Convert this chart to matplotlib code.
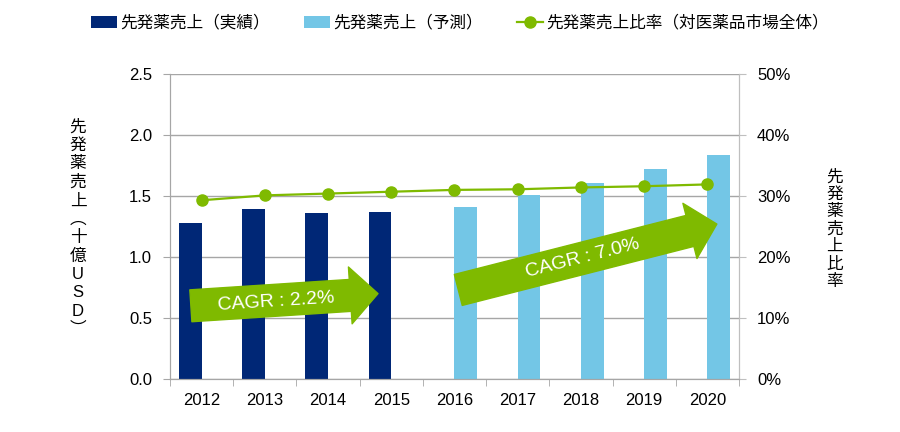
import matplotlib
matplotlib.use("Agg")
import matplotlib.pyplot as plt
from matplotlib.patches import FancyArrowPatch
from matplotlib.ticker import FuncFormatter
import numpy as np

plt.rcParams['font.family'] = ['Liberation Sans', 'Noto Sans CJK JP', 'DejaVu Sans']

# ---- data ----
years = ["2012", "2013", "2014", "2015", "2016", "2017", "2018", "2019", "2020"]
sales_actual = [1.28, 1.39, 1.36, 1.37, None, None, None, None, None]   # 十億USD
sales_forecast = [None, None, None, None, 1.41, 1.51, 1.61, 1.72, 1.84]
share = [0.293, 0.301, 0.304, 0.307, 0.310, 0.311, 0.314, 0.316, 0.319]

lbl_actual = "先発薬売上（実績）"
lbl_forecast = "先発薬売上（予測）"
lbl_share = "先発薬売上比率（対医薬品市場全体）"
ylabel_left = "先発薬売上︵十億USD︶"
ylabel_right = "先発薬売上比率"
cagr_texts = ["CAGR : 2.2%", "CAGR : 7.0%"]

NAVY = "#002776"
LIGHT = "#73C6E6"
GREEN = "#7FBA00"
GRID = "#A6A6A6"

fig = plt.figure(figsize=(9, 4.32), dpi=100)
ax = fig.add_axes([0.1889, 0.1227, 0.6322, 0.706])
ax2 = ax.twinx()

x = np.arange(len(years))
w = 0.36
xa = [xi - w / 2 for xi, v in zip(x, sales_actual) if v is not None]
ya = [v for v in sales_actual if v is not None]
xf = [xi + w / 2 for xi, v in zip(x, sales_forecast) if v is not None]
yf = [v for v in sales_forecast if v is not None]

ax.bar(xa, ya, width=w, color=NAVY, label=lbl_actual, zorder=2)
ax.bar(xf, yf, width=w, color=LIGHT, label=lbl_forecast, zorder=2)
ax2.plot(x, share, color=GREEN, lw=1.6, marker='o', markersize=8, label=lbl_share)

ax.set_xlim(-0.5, len(years) - 0.5)
ax.set_ylim(0, 2.5)
ax2.set_ylim(0, 0.5)
ax.set_yticks(np.arange(0, 2.51, 0.5))
ax2.set_yticks(np.arange(0, 0.51, 0.1))
ax.yaxis.set_major_formatter(FuncFormatter(lambda v, p: f"{v:.1f}"))
ax2.yaxis.set_major_formatter(FuncFormatter(lambda v, p: f"{v * 100:.0f}%"))

# year labels at centres, tick marks at boundaries
ax.set_xticks(x)
ax.set_xticklabels(years)
ax.set_xticks(np.arange(-0.5, len(years), 1.0), minor=True)
ax.tick_params(axis='x', which='major', length=0, pad=10, labelsize=12)
ax.tick_params(axis='x', which='minor', length=5, color=GRID)
ax.tick_params(axis='y', length=5, color=GRID, labelsize=12, pad=8)
ax2.tick_params(axis='y', length=5, color="#BFBFBF", labelsize=12, pad=8)

ax.yaxis.grid(True, color=GRID, lw=1, zorder=0)
ax.set_axisbelow(True)
for a in (ax, ax2):
    a.spines['top'].set_visible(False)
    a.spines['left'].set_color(GRID)
    a.spines['bottom'].set_color(GRID)
    a.spines['right'].set_color("#BFBFBF")

# CAGR arrows (tail / tip in bar-axis data units)
arrows = [((-0.17, 0.60), (2.79, 0.70), (1.18, 0.63), 3.7),
          ((4.06, 0.73), (8.15, 1.27), (6.02, 0.99), 14.3)]
for (tail, tip, tpos, ang), txt in zip(arrows, cagr_texts):
    arr = FancyArrowPatch(tail, tip, mutation_scale=1,
                          arrowstyle="simple,tail_width=23,head_width=41,head_length=20",
                          color=GREEN, shrinkA=0, shrinkB=0, zorder=5)
    ax.add_patch(arr)
    ax.text(tpos[0], tpos[1], txt, color="white", fontsize=14, rotation=ang,
            rotation_mode='anchor', ha='center', va='center', zorder=6)

fig.text(0.0867, 0.472, "\n".join(ylabel_left), ha='center', va='center',
         fontsize=12, linespacing=1.28)
fig.text(0.927, 0.47, "\n".join(ylabel_right), ha='center', va='center',
         fontsize=12, linespacing=1.2)

h1, l1 = ax.get_legend_handles_labels()
h2, l2 = ax2.get_legend_handles_labels()
fig.legend(h1 + h2, l1 + l2, loc='center', bbox_to_anchor=(0.511, 0.947), ncol=3,
           frameon=False, fontsize=12, handlelength=1.6, handletextpad=0.2,
           columnspacing=2.0)

plt.savefig('out.png', dpi=100)
